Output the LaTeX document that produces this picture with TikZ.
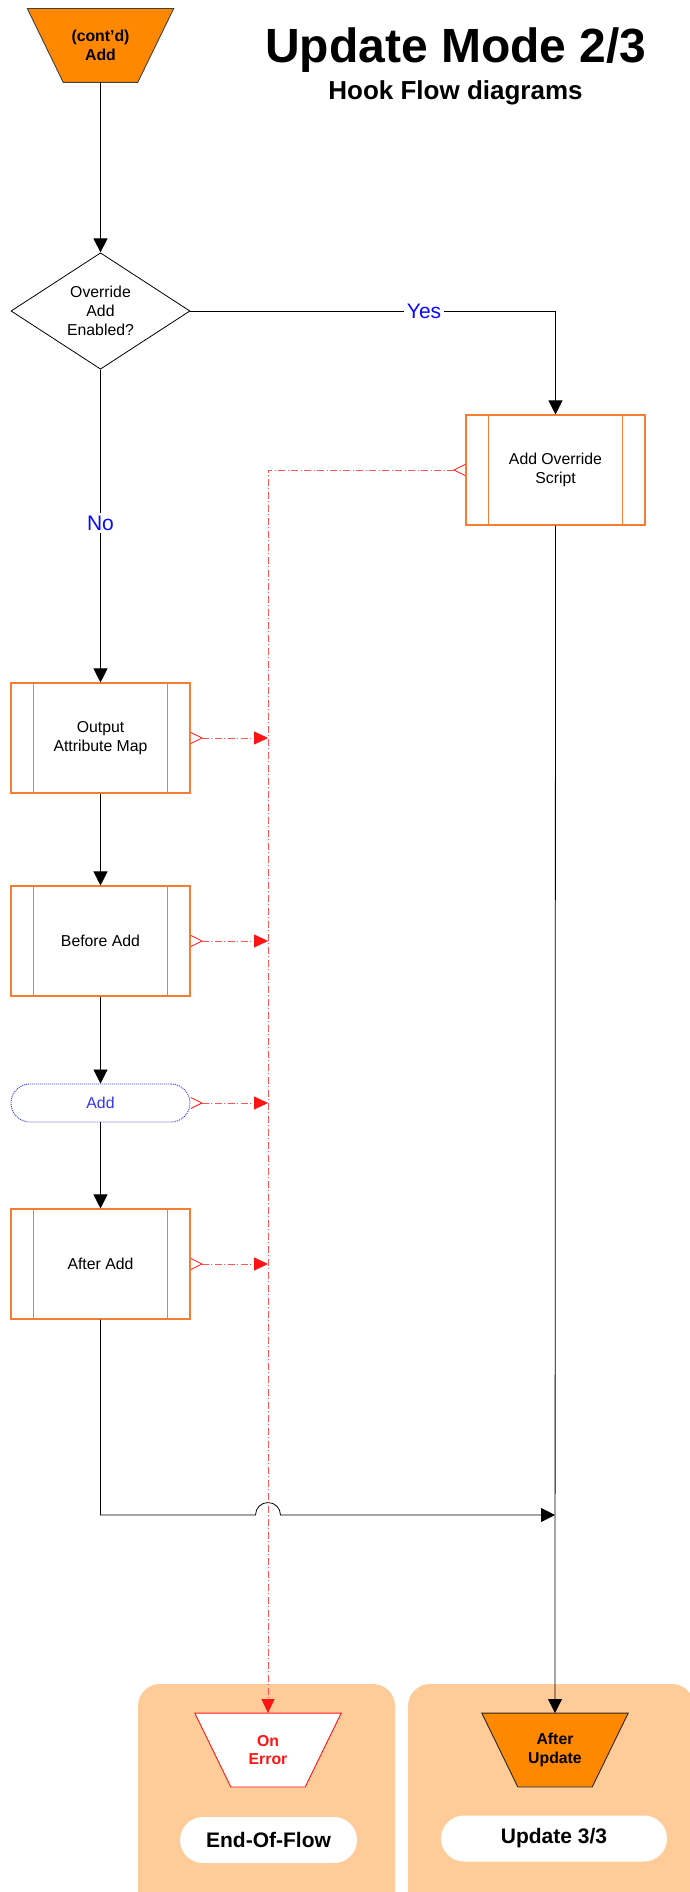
\documentclass[tikz,border=0pt]{standalone}
\usepackage{fontspec}
\setmainfont{Liberation Sans}
\usetikzlibrary{shapes.geometric,arrows.meta,calc}
\definecolor{orangefill}{RGB}{255,136,0}
\definecolor{panelfill}{RGB}{255,204,153}
\definecolor{procline}{RGB}{245,125,50}
\definecolor{errred}{RGB}{255,20,20}
\definecolor{errline}{RGB}{255,85,85}
\definecolor{lblblue}{RGB}{10,10,255}
\definecolor{termblue}{RGB}{50,50,255}
\pgfdeclarelayer{panels}
\pgfdeclarelayer{shapes}
\pgfsetlayers{panels,shapes,main}
\newcommand\fs[2]{\fontsize{#1}{#2}\selectfont}
\begin{document}
\begin{tikzpicture}[x=1pt,y=-1pt,
  every node/.style={inner sep=0pt, align=center},
  procbox/.style={draw=procline, line width=1.1pt, fill=white,
    minimum width=179pt, minimum height=110pt, font=\fs{15.8}{19.5},
    path picture={\draw[procline, line width=1.1pt]
      ([xshift=22.5pt]path picture bounding box.north west) -- ([xshift=22.5pt]path picture bounding box.south west)
      ([xshift=-22.5pt]path picture bounding box.north east) -- ([xshift=-22.5pt]path picture bounding box.south east);}},
  decision/.style={diamond, draw=black, line width=0.8pt, fill=white,
    minimum width=179pt, minimum height=110pt, font=\fs{15.8}{19}},
  termbox/.style={draw=termblue, dash pattern=on 1pt off 1pt, line width=0.9pt,
    rounded corners=19pt, minimum width=179pt, minimum height=38pt,
    text=termblue, font=\fs{15.8}{19}},
  trapholder/.style={minimum width=146pt, minimum height=73.5pt, font=\bfseries\fs{15.8}{18.5}},
  pill/.style={fill=white, rounded corners=23pt, minimum height=46pt, font=\bfseries\fs{21}{25}},
  flow/.style={draw=black, line width=0.8pt, -{Triangle[length=14pt,width=14pt]}},
  errflow/.style={draw=errline, line width=0.8pt,
    dash pattern=on 7pt off 2.5pt on 1pt off 2.5pt,
    {Straight Barb[reversed,length=11pt,width=11pt,color=errred]}-{Triangle[length=14pt,width=13pt,color=errred]}},
  lbl/.style={fill=white, inner sep=2.5pt, text=lblblue, font=\fs{21}{25}}]

\useasboundingbox (0,0) rectangle (689,1892);

% title
\node[anchor=base, font=\bfseries\fs{48}{56}] (title) at (456,63) {Update Mode 2/3};
\node[anchor=base, font=\bfseries\fs{26}{30}] (subtitle) at (455.5,100) {Hook Flow diagrams};

% off-page connectors and flow steps
\node[trapholder] (start) at (100.5,45.5) {(cont'd)\\Add};
\node[decision] (dec) at (100.5,311) {Override\\Add\\Enabled?};
\node[procbox] (ovr) at (555.5,470) {Add Override\\Script};
\node[procbox] (oam) at (100.5,738) {Output\\Attribute Map};
\node[procbox] (bfa) at (100.5,941) {Before Add};
\node[termbox] (add) at (100.5,1103) {Add};
\node[procbox] (afa) at (100.5,1264) {After Add};
\node[trapholder, text=errred] (onerr) at (268,1750) {On\\Error};
\node[trapholder] (aftup) at (555,1750) {After\\Update};
\node[pill, minimum width=177pt] (eof) at (268.5,1840) {End-Of-Flow};
\node[pill, minimum width=226pt] (up33) at (554,1838.5) {Update 3/3};

% destination panels
\begin{pgfonlayer}{panels}
  \fill[panelfill, rounded corners=22pt] (138,1684) rectangle (395,1930);
  \fill[panelfill, rounded corners=22pt] (408,1684) rectangle (694,1930);
\end{pgfonlayer}

% trapezoid outlines behind their labels
\begin{pgfonlayer}{shapes}
  \filldraw[fill=orangefill, draw=black!75, line width=0.9pt]
    (start.north west) -- (start.north east) -- ([xshift=-36pt]start.south east)
    -- ([xshift=36pt]start.south west) -- cycle;
  \filldraw[fill=white, draw=errred, line width=0.9pt]
    (onerr.north west) -- (onerr.north east) -- ([xshift=-36pt]onerr.south east)
    -- ([xshift=36pt]onerr.south west) -- cycle;
  \filldraw[fill=orangefill, draw=black!85, line width=0.9pt]
    (aftup.north west) -- (aftup.north east) -- ([xshift=-36pt]aftup.south east)
    -- ([xshift=36pt]aftup.south west) -- cycle;
\end{pgfonlayer}

% main flow
\draw[flow] (start.south) -- (dec.north);
\draw[flow] (dec.east) -| node[lbl, pos=0.32] {Yes} (ovr.north);
\draw[flow] (dec.south) -- node[lbl, pos=0.49] {No} (oam.north);
\draw[flow] (oam.south) -- (bfa.north);
\draw[flow] (bfa.south) -- (add.north);
\draw[flow] (add.south) -- (afa.north);
\draw[flow] (ovr.south) -- (aftup.north);
\coordinate (jl) at (255.5,1515);
\coordinate (merge) at (555,1515);
\draw[flow] (afa.south) |- (jl) arc[start angle=180, end angle=0, radius=12.5pt] -- (merge);

% error paths
\draw[errflow] (ovr.west) -| (onerr.north);
\draw[errflow] (oam.east) -- (oam.east -| onerr.north);
\draw[errflow] (bfa.east) -- (bfa.east -| onerr.north);
\draw[errflow] (add.east) -- (add.east -| onerr.north);
\draw[errflow] (afa.east) -- (afa.east -| onerr.north);
\end{tikzpicture}
\end{document}
